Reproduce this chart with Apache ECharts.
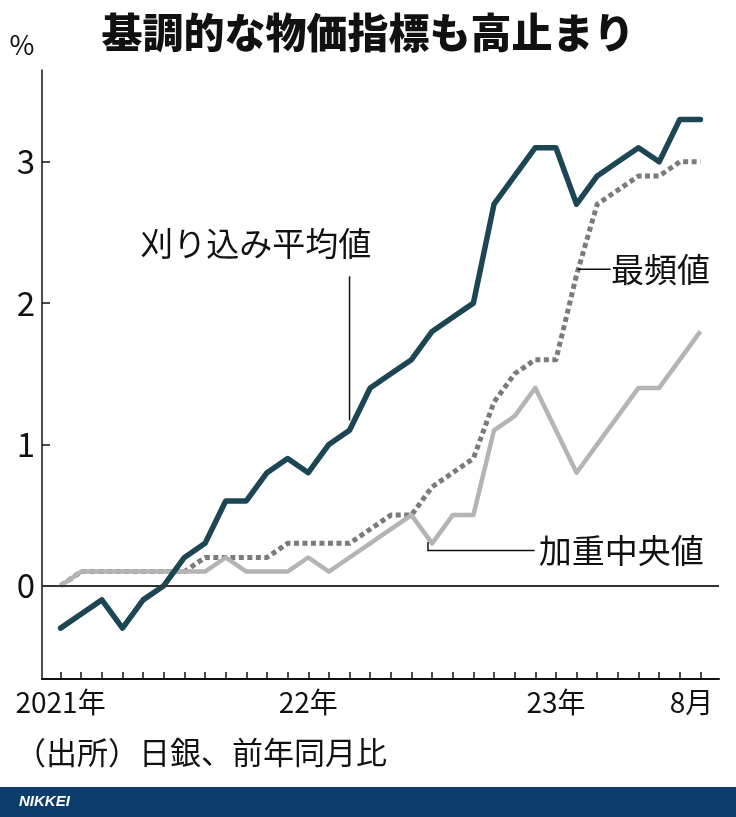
<!DOCTYPE html>
<html><head><meta charset="utf-8">
<script src="https://cdn.jsdelivr.net/npm/echarts@6/dist/echarts.min.js"></script>
<style>html,body{margin:0;padding:0;background:#fff}#c{width:736px;height:817px}</style>
</head><body><div id="c"></div>
<script>
// Months 2021-01 .. 2023-08
const months = ['2021-01','2021-02','2021-03','2021-04','2021-05','2021-06','2021-07','2021-08','2021-09','2021-10','2021-11','2021-12',
  '2022-01','2022-02','2022-03','2022-04','2022-05','2022-06','2022-07','2022-08','2022-09','2022-10','2022-11','2022-12',
  '2023-01','2023-02','2023-03','2023-04','2023-05','2023-06','2023-07','2023-08'];
// 刈り込み平均値
const trimmedMean = [-0.3,-0.2,-0.1,-0.3,-0.1,0.0,0.2,0.3,0.6,0.6,0.8,0.9,0.8,1.0,1.1,1.4,1.5,1.6,1.8,1.9,2.0,2.7,2.9,3.1,3.1,2.7,2.9,3.0,3.1,3.0,3.3,3.3];
// 加重中央値
const weightedMedian = [0.0,0.1,0.1,0.1,0.1,0.1,0.1,0.1,0.2,0.1,0.1,0.1,0.2,0.1,0.2,0.3,0.4,0.5,0.3,0.5,0.5,1.1,1.2,1.4,1.1,0.8,1.0,1.2,1.4,1.4,1.6,1.8];
// 最頻値
const modeValue = [0.0,0.1,0.1,0.1,0.1,0.1,0.1,0.2,0.2,0.2,0.2,0.3,0.3,0.3,0.3,0.4,0.5,0.5,0.7,0.8,0.9,1.3,1.5,1.6,1.6,2.2,2.7,2.8,2.9,2.9,3.0,3.0];
// x tick labels
const xLabelIndex = [0, 12, 24, 31];
const xLabelText = ['2021年', '22年', '23年', '8月'];
// y tick labels
const yTickValues = [0, 1, 2, 3];

const toPairs = arr => arr.map((v, i) => [i, v]);
const FONT = '"Noto Sans CJK JP", "Noto Sans", sans-serif';

const chart = echarts.init(document.getElementById('c'), null, {renderer: 'canvas'});
chart.setOption({
  animation: false,
  backgroundColor: '#fff',
  title: {
    text: '基調的な物価指標も高止まり',
    left: 'center', top: 7,
    textStyle: {fontFamily: FONT, fontSize: 41, fontWeight: 900, color: '#111'}
  },
  grid: {left: 42, right: 17, top: 70, bottom: 138, containLabel: false},
  xAxis: {
    type: 'value', min: -0.9, max: 31.9,
    axisLine: {show: true, onZero: false, lineStyle: {color: '#111', width: 2}},
    axisTick: {show: true, inside: true, length: 7, customValues: months.map((m, i) => i), lineStyle: {color: '#111', width: 1.5}},
    axisLabel: {
      show: true, customValues: xLabelIndex, margin: 9,
      fontFamily: FONT, fontSize: 28, color: '#111',
      formatter: v => {
        const k = xLabelIndex.indexOf(Math.round(v));
        if (k < 0) return '';
        return k === xLabelIndex.length - 1 ? '{r|' + xLabelText[k] + '}' : xLabelText[k];
      },
      rich: {r: {fontFamily: FONT, fontSize: 28, color: '#111', padding: [0, 18, 0, 0]}}
    },
    splitLine: {show: false}
  },
  yAxis: {
    type: 'value', min: -0.66, max: 3.65,
    axisLine: {show: true, onZero: false, lineStyle: {color: '#111', width: 1.5}},
    axisTick: {show: true, inside: true, length: 8, customValues: [1, 2, 3], lineStyle: {color: '#111', width: 1.5}},
    axisLabel: {show: true, customValues: yTickValues, margin: 7, fontFamily: FONT, fontSize: 33, color: '#111'},
    splitLine: {show: false}
  },
  series: [
    {
      name: '最頻値', type: 'line', data: toPairs(modeValue), symbol: 'none', z: 2,
      lineStyle: {color: '#7b7b7b', width: 5, type: [5, 3.5], join: 'round'}
    },
    {
      name: '加重中央値', type: 'line', data: toPairs(weightedMedian), symbol: 'none', z: 3,
      lineStyle: {color: '#b4b4b4', width: 4.5, join: 'round'},
      markLine: {
        silent: true, symbol: 'none', label: {show: false},
        lineStyle: {color: '#333', width: 2, type: 'solid'},
        data: [{yAxis: 0}]
      }
    },
    {
      name: '刈り込み平均値', type: 'line', data: toPairs(trimmedMean), symbol: 'none', z: 4,
      lineStyle: {color: '#1c4653', width: 5.5, join: 'round', cap: 'round'}
    }
  ]
});

// annotations in data coordinates
const P = (x, y) => chart.convertToPixel({gridIndex: 0}, [x, y]);
const annotations = [
  {text: '刈り込み平均値', at: [9.46, 2.42], leader: [[14, 2.19], [14, 1.17]]},
  {text: '最頻値', at: [29.07, 2.24], leader: [[25.05, 2.24], [26.65, 2.24]]},
  {text: '加重中央値', at: [27.16, 0.25], leader: [[17.8, 0.31], [17.8, 0.25], [22.97, 0.25]]}
];
const graphics = [];
annotations.forEach(a => {
  const c = P(a.at[0], a.at[1]);
  graphics.push({type: 'text', x: c[0], y: c[1], style: {text: a.text, fontFamily: FONT, fontSize: 33, fill: '#111', align: 'center', verticalAlign: 'middle'}});
  graphics.push({type: 'polyline', shape: {points: a.leader.map(p => P(p[0], p[1]))}, style: {stroke: '#111', lineWidth: 1.5, fill: null}, z: 10});
});
graphics.push({type: 'text', x: 22, y: 45, style: {text: '%', fontFamily: FONT, fontSize: 27, fill: '#111', align: 'center', verticalAlign: 'middle'}});
graphics.push({type: 'text', x: 15, y: 752, style: {text: '（出所）日銀、前年同月比', fontFamily: FONT, fontSize: 31, fill: '#111', align: 'left', verticalAlign: 'middle'}});
graphics.push({type: 'rect', shape: {x: 0, y: 787, width: 736, height: 30}, style: {fill: '#0c3d6c'}});
graphics.push({type: 'text', x: 19, y: 802, style: {text: 'NIKKEI', fontFamily: '"Liberation Sans", Arial, sans-serif', fontSize: 15, fontWeight: 'bold', fontStyle: 'italic', fill: '#fff', align: 'left', verticalAlign: 'middle'}});
chart.setOption({graphic: graphics});
</script>
</body></html>
